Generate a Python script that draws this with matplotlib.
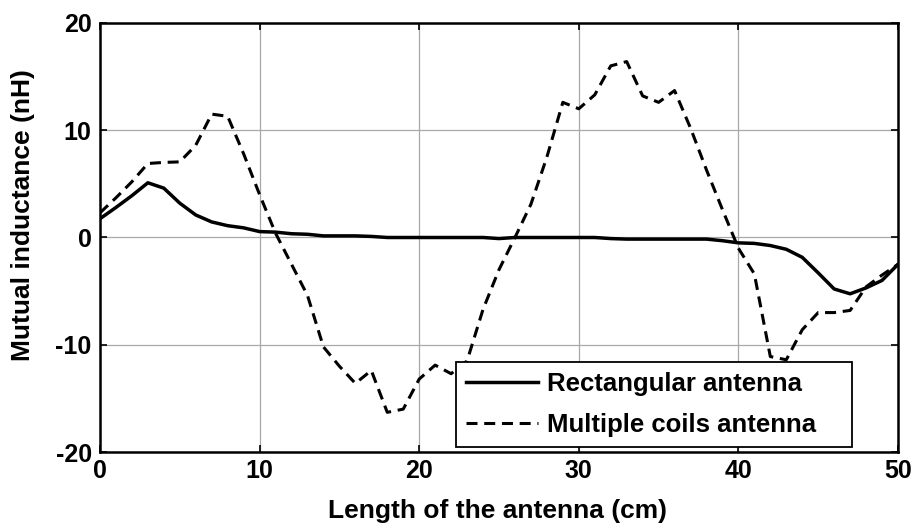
import matplotlib
matplotlib.use("Agg")
import matplotlib.pyplot as plt

plt.rcParams['font.family'] = ['Liberation Sans', 'DejaVu Sans']
plt.rcParams['axes.unicode_minus'] = False

length_cm = list(range(0, 51))
rectangular = [1.75, 2.8, 3.9, 5.1, 4.6, 3.2, 2.1, 1.45, 1.1, 0.9,
               0.55, 0.5, 0.35, 0.3, 0.15, 0.15, 0.15, 0.1, 0.0, 0.0,
               0.0, 0.0, 0.0, 0.0, 0.0, -0.1, 0.0, 0.0, 0.0, 0.0,
               0.0, 0.0, -0.1, -0.15, -0.15, -0.15, -0.15, -0.15, -0.15, -0.3,
               -0.5, -0.55, -0.75, -1.1, -1.85, -3.3, -4.8, -5.25, -4.7, -4.0,
               -2.5]
multiple_coils = [2.3, 3.7, 5.2, 6.9, 7.0, 7.05, 8.6, 11.5, 11.3, 7.8,
                  4.0, 0.4, -2.5, -5.4, -10.2, -12.0, -13.6, -12.4, -16.3, -16.0,
                  -13.2, -11.9, -12.7, -11.5, -6.7, -3.0, 0.0, 3.1, 7.5, 12.6,
                  12.0, 13.3, 16.0, 16.4, 13.2, 12.6, 13.7, 10.2, 6.3, 2.6,
                  -1.0, -3.4, -11.1, -11.4, -8.6, -7.0, -7.0, -6.8, -4.6, -3.5,
                  -2.5]
series_labels = ["Rectangular antenna", "Multiple coils antenna"]
x_ticks = [0, 10, 20, 30, 40, 50]
y_ticks = [-20, -10, 0, 10, 20]

fig = plt.figure(figsize=(9.14, 5.27), dpi=100)
ax = fig.add_axes([0.1094, 0.1423, 0.8731, 0.8141])

ax.plot(length_cm, rectangular, color='black', lw=2.5, ls='-', label=series_labels[0])
ax.plot(length_cm, multiple_coils, color='black', lw=2.2, ls=(0, (3.6, 2.2)), label=series_labels[1])

ax.set_xlim(0, 50)
ax.set_ylim(-20, 20)
ax.set_xticks(x_ticks)
ax.set_yticks(y_ticks)
ax.grid(True, color='#a8a8a8', lw=0.9)
ax.set_axisbelow(True)
for s in ax.spines.values():
    s.set_linewidth(1.8)
    s.set_color('black')
ax.tick_params(direction='in', length=5, width=1.2, top=True, right=True,
               labelsize=18)
ax.tick_params(axis='x', pad=5)
ax.tick_params(axis='y', pad=6)
for lab in ax.get_xticklabels() + ax.get_yticklabels():
    lab.set_fontweight('bold')

ax.set_xlabel("Length of the antenna (cm)", fontsize=19, fontweight='bold')
ax.set_ylabel("Mutual inductance (nH)", fontsize=19, fontweight='bold')
ax.xaxis.set_label_coords(0.498, -0.137, transform=ax.transAxes)
ax.yaxis.set_label_coords(-0.096, 0.553, transform=ax.transAxes)
ax.xaxis.label.set_va('center')
ax.yaxis.label.set_va('center')

leg = ax.legend(loc='lower left', bbox_to_anchor=(0.446, 0.0117, 0.496, 0.193),
                mode='expand', borderaxespad=0,
                prop={'size': 18.5, 'weight': 'bold'}, fancybox=False, framealpha=1,
                edgecolor='black', handlelength=2.8, handletextpad=0.35,
                borderpad=0.4, labelspacing=0.65)
leg.get_frame().set_linewidth(1.3)

fig.savefig("out.png", dpi=100)
